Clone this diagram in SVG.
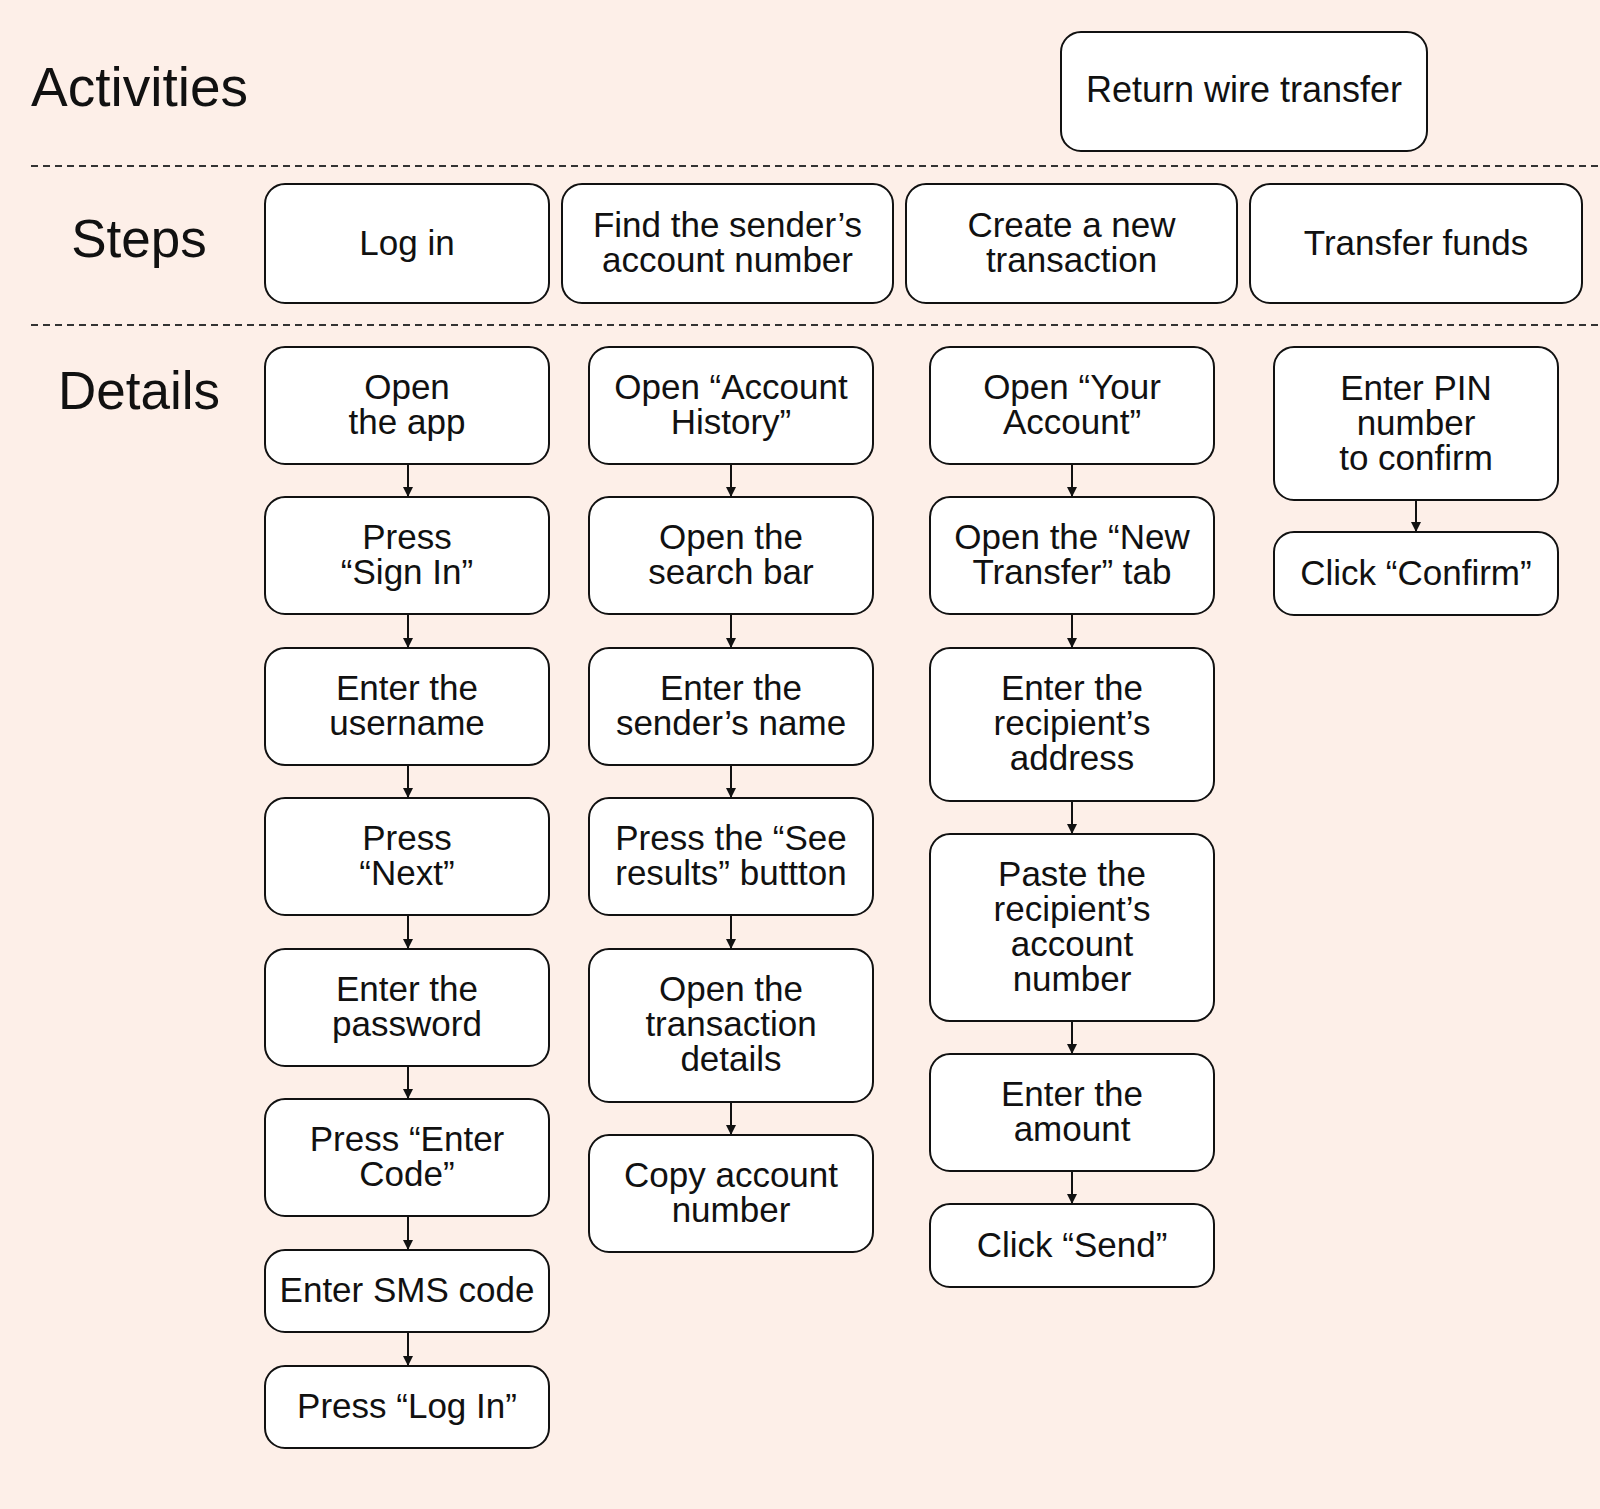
<svg xmlns="http://www.w3.org/2000/svg" width="1600" height="1509" viewBox="0 0 1600 1509">
<defs>
<style>
.bg{fill:#FDEFE8}
.box{fill:#FFFFFF;stroke:#111111;stroke-width:2}
.t{font-family:"Liberation Sans",Arial,sans-serif;font-size:35px;fill:#111111;text-anchor:middle}
.h{font-family:"Liberation Sans",Arial,sans-serif;font-size:53px;fill:#111111}
.dash{stroke:#333333;stroke-width:2;stroke-dasharray:7 5;fill:none}
.c{stroke:#111111;stroke-width:2;fill:none;marker-end:url(#ah)}
</style>
<marker id="ah" viewBox="0 0 10 10" refX="10" refY="5" markerWidth="10" markerHeight="10" markerUnits="userSpaceOnUse" orient="auto">
<path d="M0,0 L10,5 L0,10 z" fill="#111111"/>
</marker>
</defs>
<rect class="bg" x="0" y="0" width="1600" height="1509"/>

<g id="lanes">
<line class="dash" x1="31" y1="166" x2="1600" y2="166"/>
<line class="dash" x1="31" y1="325" x2="1600" y2="325"/>
<text class="h" x="31" y="106" style="font-size:55px">Activities</text>
<text class="h" x="139" y="257" text-anchor="middle">Steps</text>
<text class="h" x="139" y="409" text-anchor="middle">Details</text>
</g>

<g id="activity">
<rect class="box" x="1061" y="32" width="366" height="119" rx="20"/>
<text class="t" x="1244" y="102" style="font-size:36px">Return wire transfer</text>
</g>

<g id="step-login">
<rect class="box" x="265" y="184" width="284" height="119" rx="20"/>
<text class="t" x="407" y="255">Log in</text>
</g>
<g id="step-find">
<rect class="box" x="562" y="184" width="331" height="119" rx="20"/>
<text class="t" x="727.5"><tspan x="727.5" y="237">Find the sender’s</tspan><tspan x="727.5" y="272">account number</tspan></text>
</g>
<g id="step-create">
<rect class="box" x="906" y="184" width="331" height="119" rx="20"/>
<text class="t" x="1071.5"><tspan x="1071.5" y="237">Create a new</tspan><tspan x="1071.5" y="272">transaction</tspan></text>
</g>
<g id="step-transfer">
<rect class="box" x="1250" y="184" width="332" height="119" rx="20"/>
<text class="t" x="1416" y="255">Transfer funds</text>
</g>

<!-- Column 1 -->
<g id="c1n1"><rect class="box" x="265" y="347" width="284" height="117" rx="20"/>
<text class="t"><tspan x="407" y="399">Open</tspan><tspan x="407" y="434">the app</tspan></text></g>
<g id="c1n2"><rect class="box" x="265" y="497" width="284" height="117" rx="20"/>
<text class="t"><tspan x="407" y="549">Press</tspan><tspan x="407" y="584">“Sign In”</tspan></text></g>
<g id="c1n3"><rect class="box" x="265" y="648" width="284" height="117" rx="20"/>
<text class="t"><tspan x="407" y="700">Enter the</tspan><tspan x="407" y="735">username</tspan></text></g>
<g id="c1n4"><rect class="box" x="265" y="798" width="284" height="117" rx="20"/>
<text class="t"><tspan x="407" y="850">Press</tspan><tspan x="407" y="885">“Next”</tspan></text></g>
<g id="c1n5"><rect class="box" x="265" y="949" width="284" height="117" rx="20"/>
<text class="t"><tspan x="407" y="1001">Enter the</tspan><tspan x="407" y="1036">password</tspan></text></g>
<g id="c1n6"><rect class="box" x="265" y="1099" width="284" height="117" rx="20"/>
<text class="t"><tspan x="407" y="1151">Press “Enter</tspan><tspan x="407" y="1186">Code”</tspan></text></g>
<g id="c1n7"><rect class="box" x="265" y="1250" width="284" height="82" rx="20"/>
<text class="t" x="407" y="1302">Enter SMS code</text></g>
<g id="c1n8"><rect class="box" x="265" y="1366" width="284" height="82" rx="20"/>
<text class="t" x="407" y="1418">Press “Log In”</text></g>

<!-- Column 2 -->
<g id="c2n1"><rect class="box" x="589" y="347" width="284" height="117" rx="20"/>
<text class="t"><tspan x="731" y="399">Open “Account</tspan><tspan x="731" y="434">History”</tspan></text></g>
<g id="c2n2"><rect class="box" x="589" y="497" width="284" height="117" rx="20"/>
<text class="t"><tspan x="731" y="549">Open the</tspan><tspan x="731" y="584">search bar</tspan></text></g>
<g id="c2n3"><rect class="box" x="589" y="648" width="284" height="117" rx="20"/>
<text class="t"><tspan x="731" y="700">Enter the</tspan><tspan x="731" y="735">sender’s name</tspan></text></g>
<g id="c2n4"><rect class="box" x="589" y="798" width="284" height="117" rx="20"/>
<text class="t"><tspan x="731" y="850">Press the “See</tspan><tspan x="731" y="885">results” buttton</tspan></text></g>
<g id="c2n5"><rect class="box" x="589" y="949" width="284" height="153" rx="20"/>
<text class="t"><tspan x="731" y="1001">Open the</tspan><tspan x="731" y="1036">transaction</tspan><tspan x="731" y="1071">details</tspan></text></g>
<g id="c2n6"><rect class="box" x="589" y="1135" width="284" height="117" rx="20"/>
<text class="t"><tspan x="731" y="1187">Copy account</tspan><tspan x="731" y="1222">number</tspan></text></g>

<!-- Column 3 -->
<g id="c3n1"><rect class="box" x="930" y="347" width="284" height="117" rx="20"/>
<text class="t"><tspan x="1072" y="399">Open “Your</tspan><tspan x="1072" y="434">Account”</tspan></text></g>
<g id="c3n2"><rect class="box" x="930" y="497" width="284" height="117" rx="20"/>
<text class="t"><tspan x="1072" y="549">Open the “New</tspan><tspan x="1072" y="584">Transfer” tab</tspan></text></g>
<g id="c3n3"><rect class="box" x="930" y="648" width="284" height="153" rx="20"/>
<text class="t"><tspan x="1072" y="700">Enter the</tspan><tspan x="1072" y="735">recipient’s</tspan><tspan x="1072" y="770">address</tspan></text></g>
<g id="c3n4"><rect class="box" x="930" y="834" width="284" height="187" rx="20"/>
<text class="t"><tspan x="1072" y="886">Paste the</tspan><tspan x="1072" y="921">recipient’s</tspan><tspan x="1072" y="956">account</tspan><tspan x="1072" y="991">number</tspan></text></g>
<g id="c3n5"><rect class="box" x="930" y="1054" width="284" height="117" rx="20"/>
<text class="t"><tspan x="1072" y="1106">Enter the</tspan><tspan x="1072" y="1141">amount</tspan></text></g>
<g id="c3n6"><rect class="box" x="930" y="1204" width="284" height="83" rx="20"/>
<text class="t" x="1072" y="1257">Click “Send”</text></g>

<!-- Column 4 -->
<g id="c4n1"><rect class="box" x="1274" y="347" width="284" height="153" rx="20"/>
<text class="t"><tspan x="1416" y="400">Enter PIN</tspan><tspan x="1416" y="435">number</tspan><tspan x="1416" y="470">to confirm</tspan></text></g>
<g id="c4n2"><rect class="box" x="1274" y="532" width="284" height="83" rx="20"/>
<text class="t" x="1416" y="585">Click “Confirm”</text></g>

<g id="connectors">
<line class="c" x1="408" y1="464" x2="408" y2="497"/>
<line class="c" x1="408" y1="614" x2="408" y2="648"/>
<line class="c" x1="408" y1="765" x2="408" y2="798"/>
<line class="c" x1="408" y1="915" x2="408" y2="949"/>
<line class="c" x1="408" y1="1066" x2="408" y2="1099"/>
<line class="c" x1="408" y1="1216" x2="408" y2="1250"/>
<line class="c" x1="408" y1="1332" x2="408" y2="1366"/>
<line class="c" x1="731" y1="464" x2="731" y2="497"/>
<line class="c" x1="731" y1="614" x2="731" y2="648"/>
<line class="c" x1="731" y1="765" x2="731" y2="798"/>
<line class="c" x1="731" y1="915" x2="731" y2="949"/>
<line class="c" x1="731" y1="1102" x2="731" y2="1135"/>
<line class="c" x1="1072" y1="464" x2="1072" y2="497"/>
<line class="c" x1="1072" y1="614" x2="1072" y2="648"/>
<line class="c" x1="1072" y1="801" x2="1072" y2="834"/>
<line class="c" x1="1072" y1="1021" x2="1072" y2="1054"/>
<line class="c" x1="1072" y1="1171" x2="1072" y2="1204"/>
<line class="c" x1="1416" y1="500" x2="1416" y2="532"/>
</g>
</svg>
